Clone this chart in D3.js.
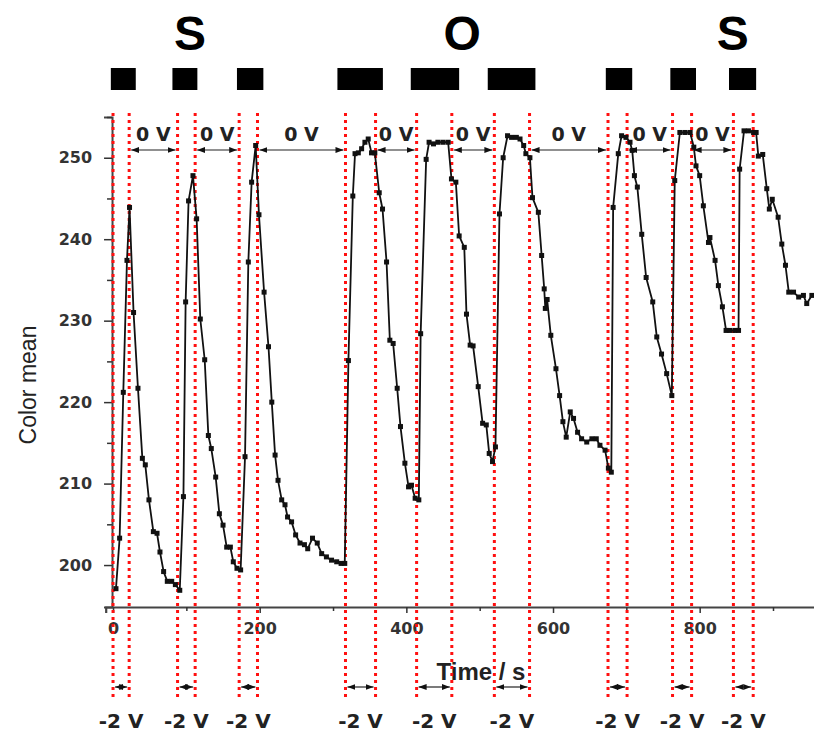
<!DOCTYPE html>
<html>
<head>
<meta charset="utf-8">
<script src="https://cdn.jsdelivr.net/npm/d3@7"></script>
<style>
body { margin: 0; background: #fff; }
svg { display: block; }
</style>
</head>
<body>
<svg id="chart" width="814" height="734"></svg>
<script>
// time (s) and color mean
var times = [4, 9, 14, 19, 22.5, 28, 34, 40, 44, 49, 55, 60, 64, 69, 74, 80, 85, 91,
    96, 99, 103, 109, 114, 119, 125, 130, 134, 140, 145, 150, 155, 160, 164, 169, 174,
    180, 184.5, 189, 194.5, 199, 206, 212, 216.5, 221, 225, 230, 234.5, 238, 243.5, 249, 255, 261, 265.5, 272, 278.5, 284.5, 291, 298, 305, 311, 316,
    321, 327, 330, 334.5, 339, 343.5, 348, 352.5, 357, 363, 367.5, 373, 377.5, 382, 387.5, 392, 398, 403, 407, 412, 417,
    419.5, 427, 431, 437, 443, 450, 457, 461.5, 467.5, 472, 479, 482, 487, 491, 498, 504, 509, 513, 517.5, 521.5,
    527, 532, 538, 543.5, 550, 555, 560, 563, 568.5, 572, 580, 584.5, 588, 589.5, 592, 597, 604, 609, 613.5, 618, 623.5, 628, 633.5, 639, 646, 653, 659, 664, 671, 675.5, 679.5,
    682, 689, 693.5, 699.5, 705, 708, 711, 715, 721, 727, 736, 741.5, 748, 755, 762,
    766, 773, 780, 787, 792, 795, 800, 805, 812, 814, 821, 825.5, 831, 836, 841, 848, 853,
    854.5, 860.5, 866.5, 873.5, 877, 880, 886, 891.5, 895, 899, 907, 912, 917, 921.5, 928, 935, 941.5, 946, 953];

var colorMean = [197.1, 203.3, 221.2, 237.4, 243.9, 231.0, 221.7, 213.1, 212.3, 208.0, 204.1, 203.9, 201.6, 199.2, 198.0, 198.0, 197.6, 196.9,
    208.4, 232.3, 244.7, 247.8, 242.5, 230.2, 225.2, 215.9, 214.3, 210.8, 206.3, 204.9, 202.2, 202.2, 200.4, 199.6, 199.4,
    213.3, 237.2, 247.0, 251.5, 243.0, 233.5, 226.8, 220.0, 213.5, 210.4, 208.0, 207.4, 205.9, 205.3, 203.7, 202.7, 202.5, 202.0, 203.3, 202.7, 201.4, 201.0, 200.6, 200.4, 200.2, 200.2,
    225.1, 245.3, 250.5, 250.6, 251.1, 251.9, 252.3, 250.6, 250.6, 245.7, 243.7, 237.2, 227.6, 227.2, 221.7, 217.0, 212.5, 209.6, 209.8, 208.2, 208.0,
    228.4, 249.8, 251.9, 251.7, 251.9, 251.9, 251.9, 247.4, 247.0, 240.4, 239.0, 230.8, 227.0, 226.9, 221.9, 217.4, 217.2, 213.7, 212.7, 214.5,
    243.1, 250.0, 252.7, 252.5, 252.5, 252.3, 251.5, 250.5, 250.0, 245.1, 243.3, 238.0, 233.9, 231.5, 232.6, 228.2, 224.1, 220.8, 217.6, 215.7, 218.8, 218.0, 216.3, 215.5, 215.1, 215.5, 215.5, 214.7, 214.1, 211.9, 211.4,
    243.9, 250.5, 252.7, 252.5, 251.9, 250.9, 247.8, 246.4, 240.6, 235.3, 232.3, 228.0, 225.9, 223.5, 220.8,
    247.2, 253.1, 253.1, 253.1, 251.3, 249.0, 247.8, 244.1, 239.6, 240.2, 237.4, 234.3, 231.7, 228.8, 228.8, 228.8, 228.8,
    248.6, 253.3, 253.3, 253.1, 253.1, 250.2, 250.4, 246.2, 243.7, 244.9, 242.7, 239.4, 236.8, 233.5, 233.5, 232.9, 233.1, 232.1, 233.1];

// -2 V pulses (red dotted pairs), in seconds
var pulseStart = [0, 88, 172, 317, 414, 520, 675, 763, 846];
var pulseEnd = [22, 112, 197, 358, 462, 568, 701, 789, 873];

// black bars at the top
var barStart = [-3, 81, 169, 306, 406, 511, 672, 760, 840];
var barEnd = [31, 115, 205, 368, 472, 576, 708, 795, 877];

var letters = ['S', 'O', 'S'];
var letterTimes = [105, 476, 845];

var xMajor = [0, 200, 400, 600, 800];
var xMinor = [100, 300, 500, 700, 900];
var yMajor = [200, 210, 220, 230, 240, 250];
var yMinor = [205, 215, 225, 235, 245, 255];

var onLabel = '-2 V';
var offLabel = '0 V';

var svg = d3.select('#chart');

var x = d3.scaleLinear().domain([-10, 957]).range([105.7, 814.8]);
var y = d3.scaleLinear().domain([194.85, 255]).range([607, 117]);

var lineTop = 113, lineBottom = 698;
var boldFont = 'DejaVu Sans, sans-serif';

// arrow heads
var defs = svg.append('defs');
defs.append('marker')
    .attr('id', 'arrow')
    .attr('viewBox', '0 0 8 6')
    .attr('refX', 8).attr('refY', 3)
    .attr('markerWidth', 8).attr('markerHeight', 6)
    .attr('markerUnits', 'userSpaceOnUse')
    .attr('orient', 'auto-start-reverse')
    .append('path')
    .attr('d', 'M0,0 L8,3 L0,6 Z')
    .attr('fill', '#111');

// S O S letters and bars
svg.selectAll('.letter')
    .data(letters)
    .enter()
    .append('text')
    .attr('class', 'letter')
    .attr('x', (d, i) => x(letterTimes[i]))
    .attr('y', 50)
    .attr('text-anchor', 'middle')
    .style('font-family', '"Liberation Sans", Arial, sans-serif')
    .style('font-weight', 'bold')
    .style('font-size', '48px')
    .text(d => d);

svg.selectAll('.bar')
    .data(barStart)
    .enter()
    .append('rect')
    .attr('class', 'bar')
    .attr('x', d => x(d))
    .attr('y', 68)
    .attr('width', (d, i) => x(barEnd[i]) - x(d))
    .attr('height', 22)
    .attr('fill', '#000');

// axes
var xAxis = svg.append('g')
    .attr('transform', 'translate(0,607)')
    .call(d3.axisBottom(x).tickValues(xMajor).tickSize(6).tickPadding(10).tickFormat(d3.format('d')));
svg.append('g')
    .attr('transform', 'translate(0,607)')
    .call(d3.axisBottom(x).tickValues(xMinor).tickSize(4).tickFormat(''))
    .select('.domain').remove();

var y0 = x(0) - 1;
var yAxis = svg.append('g')
    .attr('transform', 'translate(' + y0 + ',0)')
    .call(d3.axisLeft(y).tickValues(yMajor).tickSize(8).tickPadding(12));
svg.append('g')
    .attr('transform', 'translate(' + y0 + ',0)')
    .call(d3.axisLeft(y).tickValues(yMinor).tickSize(5).tickFormat(''))
    .select('.domain').remove();

svg.selectAll('.tick line').attr('stroke', '#333').attr('stroke-width', 1.5);
xAxis.select('.domain').attr('stroke', '#444').attr('stroke-width', 2.2);
yAxis.select('.domain').attr('stroke', '#444').attr('stroke-width', 2);
svg.selectAll('.tick text')
    .style('font-family', boldFont)
    .style('font-weight', 'bold')
    .style('font-size', '16px')
    .attr('fill', '#333');

svg.append('text')
    .attr('x', 481)
    .attr('y', 680)
    .attr('text-anchor', 'middle')
    .style('font-family', '"Liberation Sans", Arial, sans-serif')
    .style('font-weight', 'bold')
    .style('font-size', '24px')
    .attr('fill', '#222')
    .text('Time / s');

svg.append('text')
    .attr('transform', 'translate(36,385) rotate(-90)')
    .attr('text-anchor', 'middle')
    .style('font-family', '"Liberation Sans", Arial, sans-serif')
    .style('font-size', '23px')
    .attr('fill', '#222')
    .text('Color mean');

// red dotted pulse lines
var edges = pulseStart.concat(pulseEnd);
svg.selectAll('.pulse')
    .data(edges)
    .enter()
    .append('line')
    .attr('class', 'pulse')
    .attr('x1', d => x(d)).attr('x2', d => x(d))
    .attr('y1', lineTop).attr('y2', lineBottom)
    .attr('stroke', '#ff1010')
    .attr('stroke-width', 3)
    .attr('stroke-dasharray', '3,4');

// 0 V arrows between pulses
var gaps = pulseEnd.slice(0, -1).map((d, i) => [d, pulseStart[i + 1]]);
svg.selectAll('.offArrow')
    .data(gaps)
    .enter()
    .append('line')
    .attr('class', 'offArrow')
    .attr('x1', d => x(d[0]) + 2).attr('x2', d => x(d[1]) - 2)
    .attr('y1', 150).attr('y2', 150)
    .attr('stroke', '#222').attr('stroke-width', 1.2)
    .attr('marker-start', 'url(#arrow)')
    .attr('marker-end', 'url(#arrow)');

svg.selectAll('.offLabel')
    .data(gaps)
    .enter()
    .append('text')
    .attr('class', 'offLabel')
    .attr('x', d => (x(d[0]) + x(d[1])) / 2)
    .attr('y', 141)
    .attr('text-anchor', 'middle')
    .style('font-family', boldFont)
    .style('font-weight', 'bold')
    .style('font-size', '19px')
    .attr('fill', '#222')
    .text(offLabel);

// -2 V arrows under the axis
svg.selectAll('.onArrow')
    .data(pulseStart)
    .enter()
    .append('line')
    .attr('class', 'onArrow')
    .attr('x1', d => x(d) + 2).attr('x2', (d, i) => x(pulseEnd[i]) - 2)
    .attr('y1', 687).attr('y2', 687)
    .attr('stroke', '#222').attr('stroke-width', 1.2)
    .attr('marker-start', 'url(#arrow)')
    .attr('marker-end', 'url(#arrow)');

svg.selectAll('.onLabel')
    .data(pulseStart)
    .enter()
    .append('text')
    .attr('class', 'onLabel')
    .attr('x', (d, i) => (x(d) + x(pulseEnd[i])) / 2)
    .attr('y', 728)
    .attr('text-anchor', 'middle')
    .style('font-family', boldFont)
    .style('font-weight', 'bold')
    .style('font-size', '20px')
    .attr('fill', '#222')
    .text(onLabel);

// color mean trace
var points = times.map((t, i) => ({ t: t, v: colorMean[i] }));
var line = d3.line().x(d => x(d.t)).y(d => y(d.v));

svg.append('path')
    .datum(points)
    .attr('d', line)
    .attr('fill', 'none')
    .attr('stroke', '#111')
    .attr('stroke-width', 1.8)
    .attr('stroke-linejoin', 'round');

svg.selectAll('.pt')
    .data(points)
    .enter()
    .append('rect')
    .attr('class', 'pt')
    .attr('x', d => x(d.t) - 2.5)
    .attr('y', d => y(d.v) - 2.5)
    .attr('width', 5)
    .attr('height', 5)
    .attr('fill', '#111');
</script>
</body>
</html>
